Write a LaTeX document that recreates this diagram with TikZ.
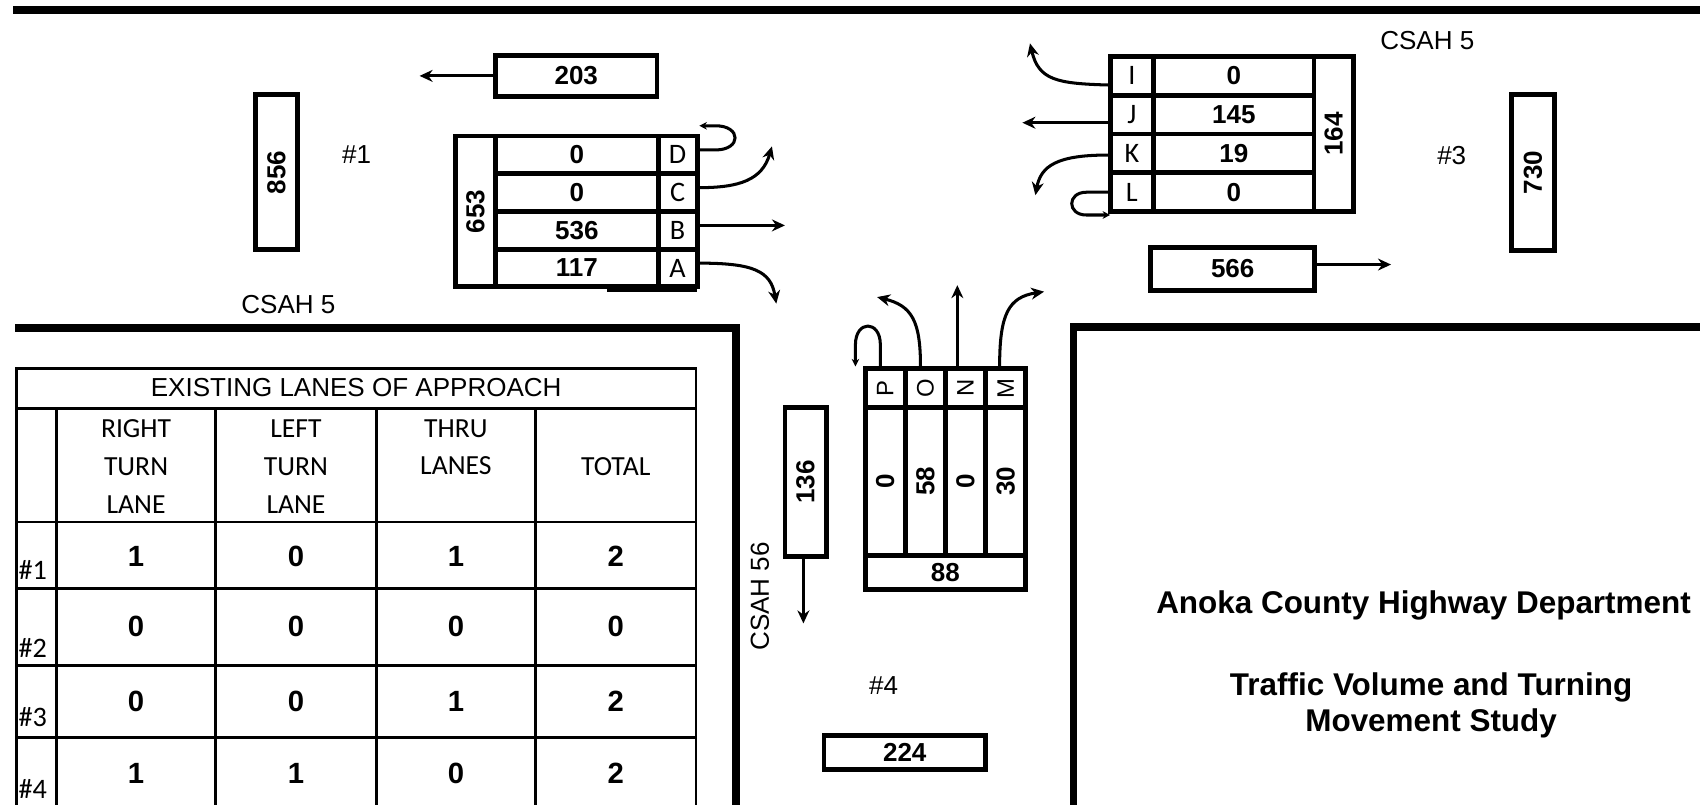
\documentclass[tikz,border=0pt]{standalone}
\usepackage{fontspec}
\setmainfont{Liberation Sans}
\newfontfamily\calfont{Carlito}
\usepackage{graphicx}
\usetikzlibrary{arrows.meta}
\newcommand\fsz[1]{\fontsize{#1}{#1}\selectfont}
\begin{document}
\begin{tikzpicture}[x=1pt,y=-1pt,
  cell/.style={draw, line width=4.5pt, inner sep=0pt, font=\fsz{24}\bfseries},
  lcell/.style={draw, line width=4.5pt, inner sep=0pt, font=\fsz{26}\calfont},
  pcell/.style={draw, line width=4.5pt, inner sep=0pt, font=\fsz{22}},
  arr/.style={line width=2.8pt, -{Stealth[length=12pt,width=11pt]}},
  sarr/.style={line width=2.8pt, -{Stealth[length=7pt,width=7pt]}},
  road/.style={line width=7pt},
  tline/.style={line width=2.5pt},
  lbl/.style={font=\fsz{24}, inner sep=0pt},
  hdr/.style={font=\fontsize{25.5}{35}\selectfont\calfont, align=center, inner sep=0pt},
  tnum/.style={font=\fsz{27}\bfseries, inner sep=0pt},
  rlab/.style={font=\fsz{26}\calfont, anchor=west, inner sep=0pt},
  title/.style={font=\fsz{29}\bfseries, inner sep=0pt}]
\useasboundingbox (0,0) rectangle (1568,742);

% roads
\draw[road] (12,9) -- (1568,9);
\draw[road] (14,302.5) -- (679,302.5) -- (679,760);
\draw[road] (1568,301.5) -- (990,301.5) -- (990,760);

% ---------- intersection #1 ----------
\node[cell, minimum width=38pt, minimum height=143pt] (b856) at (255,159) {\rotatebox{90}{856}};
\node[lbl] (n1) at (329,143) {\#1};
\node[cell, minimum width=149pt, minimum height=38pt] (b203) at (531.5,70) {203};
\coordinate (e203) at (387,70);
\draw[arr] (b203.west) -- (e203);

\node[cell, minimum width=37pt, minimum height=139.2pt] (t653) at (438.5,195) {\rotatebox{90}{653}};
\node[cell, minimum width=150pt, minimum height=34.8pt] (vD) at (532,142.8) {0};
\node[cell, minimum width=150pt, minimum height=34.8pt] (vC) at (532,177.6) {0};
\node[cell, minimum width=150pt, minimum height=34.8pt] (vB) at (532,212.4) {536};
\node[cell, minimum width=150pt, minimum height=34.8pt] (vA) at (532,247.2) {117};
\node[lcell, minimum width=36pt, minimum height=34.8pt] (lD) at (625,142.8) {\raisebox{-2pt}{D}};
\node[lcell, minimum width=36pt, minimum height=34.8pt] (lC) at (625,177.6) {\raisebox{-2pt}{C}};
\node[lcell, minimum width=36pt, minimum height=34.8pt] (lB) at (625,212.4) {\raisebox{-2pt}{B}};
\node[lcell, minimum width=36pt, minimum height=34.8pt] (lA) at (625,247.2) {\raisebox{-2pt}{A}};
\draw[line width=4.5pt] (560,266.8) -- (643,266.8);

\coordinate (eD) at (645,116);
\coordinate (eC) at (712,135);
\coordinate (eB) at (724,207.9);
\coordinate (eA) at (716,280);
\draw[sarr] ([yshift=4.5pt]lD.east) -- (660,138.3) .. controls (684,138.3) and (684,116) .. (660,116) -- (eD);
\draw[arr] ([yshift=4.5pt]lC.east) .. controls (682,173) and (703,166) .. (eC);
\draw[arr] ([yshift=4.5pt]lB.east) -- (eB);
\draw[arr] ([yshift=4.5pt]lA.east) .. controls (695,242.7) and (711,250) .. (eA);
\node[lbl] (csah5a) at (266,281) {CSAH 5};

% ---------- intersection #3 ----------
\node[lcell, minimum width=40pt, minimum height=35.8pt] (lI) at (1044,69.9) {\raisebox{-2pt}{I}};
\node[lcell, minimum width=40pt, minimum height=35.8pt] (lJ) at (1044,105.7) {\raisebox{-2pt}{J}};
\node[lcell, minimum width=40pt, minimum height=35.8pt] (lK) at (1044,141.5) {\raisebox{-2pt}{K}};
\node[lcell, minimum width=40pt, minimum height=35.8pt] (lL) at (1044,177.3) {\raisebox{-2pt}{L}};
\node[cell, minimum width=148pt, minimum height=35.8pt] (vI) at (1138,69.9) {0};
\node[cell, minimum width=148pt, minimum height=35.8pt] (vJ) at (1138,105.7) {145};
\node[cell, minimum width=148pt, minimum height=35.8pt] (vK) at (1138,141.5) {19};
\node[cell, minimum width=148pt, minimum height=35.8pt] (vL) at (1138,177.3) {0};
\node[cell, minimum width=36pt, minimum height=143.2pt] (t164) at (1230,123.6) {\rotatebox{90}{164}};

\coordinate (eI) at (950,40);
\coordinate (eJ) at (943,113.2);
\coordinate (eK) at (955,180);
\coordinate (eL) at (1024,198.3);
\draw[arr] ([yshift=-8.5pt]lI.west) .. controls (975,77) and (958,74) .. (eI);
\draw[arr] ([yshift=-7.5pt]lJ.west) -- (eJ);
\draw[arr] ([yshift=-1.5pt]lK.west) .. controls (975,143) and (960,153) .. (eK);
\draw[sarr] (lL.west) -- (1002,177.3) .. controls (984,177.3) and (984,198.3) .. (1002,198.3) -- (eL);

\node[cell, minimum width=151pt, minimum height=40pt] (b566) at (1137,248) {566};
\coordinate (e566) at (1283,244);
\draw[arr] ([yshift=4pt]b566.east) -- (e566);
\node[cell, minimum width=40pt, minimum height=144pt] (b730) at (1414,159) {\rotatebox{90}{730}};
\node[lbl] (n3) at (1339,143) {\#3};
\node[lbl] (csah5b) at (1316.5,37) {CSAH 5};

% ---------- intersection #4 ----------
\node[pcell, minimum width=37pt, minimum height=36pt] (lP) at (816.5,358) {\rotatebox{90}{P}};
\node[pcell, minimum width=37pt, minimum height=36pt] (lO) at (853.5,358) {\rotatebox{90}{O}};
\node[pcell, minimum width=37pt, minimum height=36pt] (lN) at (890.5,358) {\rotatebox{90}{N}};
\node[pcell, minimum width=37pt, minimum height=36pt] (lM) at (927.5,358) {\rotatebox{90}{M}};
\node[cell, minimum width=37pt, minimum height=136pt] (vP) at (816.5,444) {\rotatebox{90}{0}};
\node[cell, minimum width=37pt, minimum height=136pt] (vO) at (853.5,444) {\rotatebox{90}{58}};
\node[cell, minimum width=37pt, minimum height=136pt] (vN) at (890.5,444) {\rotatebox{90}{0}};
\node[cell, minimum width=37pt, minimum height=136pt] (vM) at (927.5,444) {\rotatebox{90}{30}};
\node[cell, minimum width=148pt, minimum height=32pt] (t88) at (872,528) {88};

\coordinate (eP) at (789,338);
\coordinate (eO) at (809,274);
\coordinate (eN) at (883,263);
\coordinate (eM) at (963,269);
\draw[sarr] ([xshift=-4.5pt]lP.north) -- (812,318) .. controls (812,295) and (789,295) .. (789,318) -- (eP);
\draw[arr] ([xshift=-4.5pt]lO.north) .. controls (849,296) and (841,282) .. (eO);
\draw[arr] ([xshift=-7.5pt]lN.north) -- (eN);
\draw[arr] ([xshift=-5.5pt]lM.north) .. controls (922,290) and (930,274) .. (eM);

\node[cell, minimum width=38pt, minimum height=137pt] (b136) at (743,444.5) {\rotatebox{90}{136}};
\coordinate (e136) at (741,575);
\draw[arr] ([xshift=-2pt]b136.south) -- (e136);
\node[lbl, rotate=90] (csah56) at (701,550) {CSAH 56};
\node[lbl] (n4) at (815,632) {\#4};
\node[cell, minimum width=149pt, minimum height=32pt] (b224) at (834.5,694) {224};

% ---------- title ----------
\node[title, anchor=base] (t1) at (1313,565.4) {Anoka County Highway Department};
\node[title, anchor=base] (t2) at (1320,641.4) {Traffic Volume and Turning};
\node[title, anchor=base] (t3) at (1320,674.4) {Movement Study};

% ---------- table ----------
\draw[tline] (15,760) -- (15,340) -- (642,340) -- (642,760);
\foreach \yy in {377,481.5,543,613.5,680} {\draw[tline] (15,\yy) -- (642,\yy);}
\foreach \xx in {52,199,347,494} {\draw[tline] (\xx,377) -- (\xx,760);}
\node[font=\fsz{24}, inner sep=0pt] (ttl) at (328.5,357) {EXISTING LANES OF APPROACH};
\node[hdr] (h1) at (125.5,430) {RIGHT\\TURN\\LANE};
\node[hdr] (h2) at (273,430) {LEFT\\TURN\\LANE};
\node[hdr] (h3) at (420.5,412.5) {THRU\\LANES};
\node[hdr] (h4) at (568,430.5) {TOTAL};
\foreach \yy/\lab/\a/\b/\c/\d in {513/1/1/0/1/2, 578/2/0/0/0/0, 647/3/0/0/1/2, 713/4/1/1/0/2} {
  \node[tnum] at (125.5,\yy) {\a};
  \node[tnum] at (273,\yy) {\b};
  \node[tnum] at (420.5,\yy) {\c};
  \node[tnum] at (568,\yy) {\d};
}
\node[rlab] (r1) at (17,526) {\#1};
\node[rlab] (r2) at (17,598) {\#2};
\node[rlab] (r3) at (17,661) {\#3};
\node[rlab] (r4) at (17,727.5) {\#4};
\end{tikzpicture}
\end{document}
